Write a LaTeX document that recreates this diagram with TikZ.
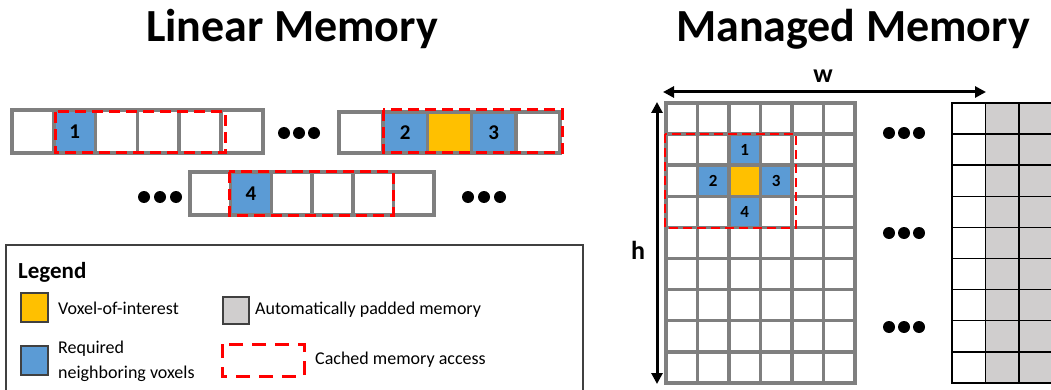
\documentclass[tikz,border=0pt]{standalone}
\usepackage{fontspec}
\setmainfont{Carlito}
\usetikzlibrary{arrows.meta}

\definecolor{cellgray}{HTML}{7F7F7F}
\definecolor{voxblue}{HTML}{5B9BD5}
\definecolor{voxorange}{HTML}{FFC000}
\definecolor{padgray}{HTML}{D0CECE}
\definecolor{cachered}{HTML}{FF0000}
\definecolor{framegray}{HTML}{404040}

\tikzset{
  lcell/.style={draw=cellgray, line width=3.5pt, inner sep=0pt, font=\fontsize{21}{21}\selectfont\bfseries},
  gcell/.style={draw=cellgray, line width=3.5pt, inner sep=0pt, minimum width=31.5pt, minimum height=31.1pt,
    font=\fontsize{17}{17}\selectfont\bfseries},
  pcell/.style={draw=black, line width=1.4pt, inner sep=0pt, minimum width=33.5pt, minimum height=31.1pt},
  cache/.style={draw=cachered, line width=3pt, dash pattern=on 11pt off 6pt},
  cachesmall/.style={draw=cachered, line width=2.8pt, dash pattern=on 9pt off 5pt},
  swatch/.style={draw=framegray, line width=1.2pt},
  dimarrow/.style={draw=black, line width=3pt, {Triangle[length=11pt,width=11pt]}-{Triangle[length=11pt,width=11pt]}},
  title/.style={font=\fontsize{46}{50}\selectfont\bfseries, anchor=base, inner sep=0pt},
  dimlabel/.style={font=\fontsize{26}{26}\selectfont\bfseries, inner sep=0pt},
  legtext/.style={font=\fontsize{18}{25}\selectfont, anchor=west, inner sep=0pt, align=left},
  dot/.style={fill=black, draw=none},
}

\begin{document}
\begin{tikzpicture}[x=1pt, y=-1pt]
\useasboundingbox (0,0) rectangle (1051,390);
\clip (0,0) rectangle (1051,390);

% ---------- titles ----------
\node[title] (tlin) at (292,42) {Linear Memory};
\node[title] (tman) at (853,42) {Managed Memory};

% ---------- linear memory: first row, left part ----------
\foreach \i/\f/\t in {0/white/{},1/voxblue/1,2/white/{},3/white/{},4/white/{},5/white/{}}
  \node[lcell, fill=\f, minimum width=41.8pt, minimum height=43pt] (la\i) at ({12+41.8*(\i+0.5)},131.5) {\t};
\draw[cache] (55,112) rectangle (225,153);
\foreach \k in {0,1,2} \fill[dot] ({284+15*\k},133) circle (6);

% ---------- linear memory: first row, right part ----------
\foreach \i/\f/\t in {0/white/{},1/voxblue/2,2/voxorange/{},3/voxblue/3,4/white/{}}
  \node[lcell, fill=\f, minimum width=44.2pt, minimum height=41pt] (lb\i) at ({339+44.2*(\i+0.5)},132.5) {\t};
\draw[cache] (383,110) rectangle (562,153);

% ---------- linear memory: second row ----------
\foreach \k in {0,1,2} \fill[dot] ({144+16*\k},197) circle (6);
\foreach \i/\f/\t in {0/white/{},1/voxblue/4,2/white/{},3/white/{},4/white/{},5/white/{}}
  \node[lcell, fill=\f, minimum width=40.7pt, minimum height=43pt] (lc\i) at ({190+40.7*(\i+0.5)},193.5) {\t};
\draw[cache] (229,172) rectangle (393,215);
\foreach \k in {0,1,2} \fill[dot] ({468+16*\k},197) circle (6);

% ---------- legend ----------
\draw[draw=framegray, line width=1.3pt] (6,245) rectangle (583,400);
\node[font=\fontsize{23}{23}\selectfont\bfseries, anchor=base west, inner sep=0pt] (leg) at (18,278) {Legend};
\draw[swatch, fill=voxorange] (21,293) rectangle (48,322);
\node[legtext] (lvoi) at (58,308) {Voxel-of-interest};
\draw[swatch, fill=padgray] (223,297) rectangle (249,324);
\node[legtext] (lpad) at (255,310) {Automatically padded memory};
\draw[swatch, fill=voxblue] (21,346) rectangle (48,375);
\node[legtext] (lnb) at (58,361) {Required\\neighboring voxels};
\draw[cache, dash pattern=on 14pt off 9pt] (222,344) rectangle (304,376);
\node[legtext] (lcache) at (315,360) {Cached memory access};

% ---------- managed memory: voxel grid ----------
\foreach \c in {0,...,5}
  \foreach \r in {0,...,8}
    \node[gcell] (g\c-\r) at ({666+31.5*(\c+0.5)},{103+31.1*(\r+0.5)}) {};
\node[gcell, fill=voxblue] at (g2-1) {1};
\node[gcell, fill=voxblue] at (g1-2) {2};
\node[gcell, fill=voxorange] at (g2-2) {};
\node[gcell, fill=voxblue] at (g3-2) {3};
\node[gcell, fill=voxblue] at (g2-3) {4};
\draw[cachesmall] (665,134) rectangle (796,228);

% ---------- dimension arrows ----------
\coordinate (wl) at (663,92);
\coordinate (wr) at (986,92);
\draw[dimarrow] (wl) -- (wr);
\node[dimlabel] (wlab) at (823,76) {w};
\coordinate (ht) at (657,102);
\coordinate (hb) at (657,384);
\draw[dimarrow] (ht) -- (hb);
\node[dimlabel] (hlab) at (638,250) {h};

% ---------- continuation dots ----------
\foreach \y in {133,233,327}
  \foreach \k in {0,1,2} \fill[dot] ({889+15*\k},\y) circle (6);

% ---------- managed memory: padded columns ----------
\foreach \c/\f in {0/white,1/padgray,2/padgray}
  \foreach \r in {0,...,8}
    \node[pcell, fill=\f] (p\c-\r) at ({952+33.5*(\c+0.5)},{103+31.1*(\r+0.5)}) {};
\end{tikzpicture}
\end{document}
